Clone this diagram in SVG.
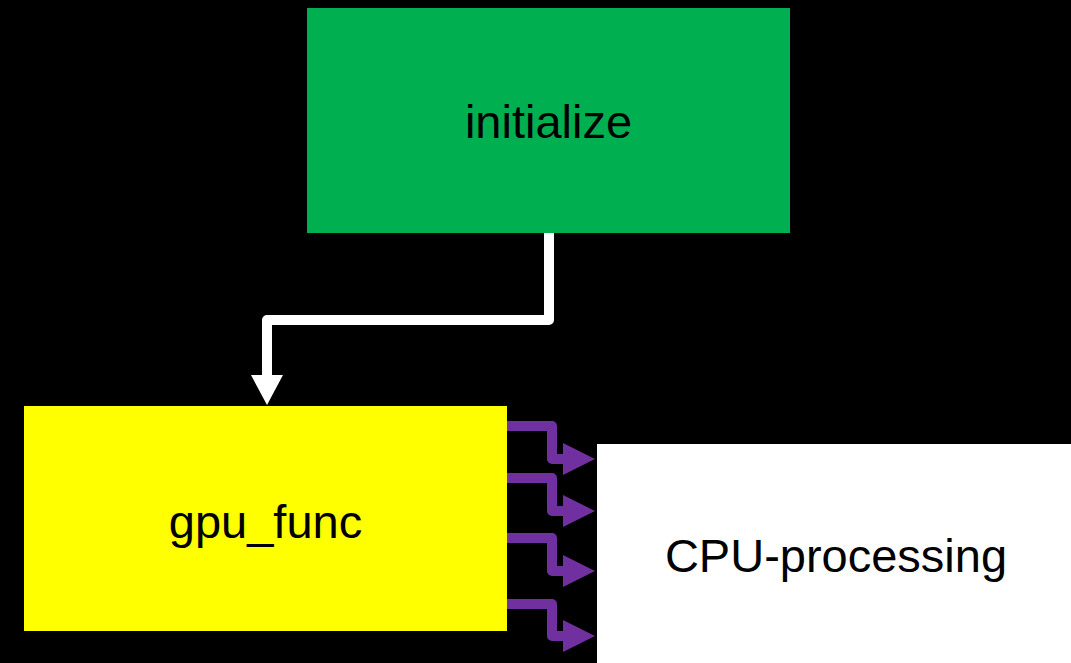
<svg xmlns="http://www.w3.org/2000/svg" width="1071" height="663" viewBox="0 0 1071 663">
  <defs>
    <style>
      .label { font-family: "Liberation Sans", Arial, sans-serif; font-size: 47px; fill: #000; text-anchor: middle; }
      .flow { fill: none; stroke: #FFFFFF; stroke-width: 10; stroke-linejoin: round; }
      .flow-head { fill: #FFFFFF; }
      .data { fill: none; stroke: #7030A0; stroke-width: 10; stroke-linejoin: round; }
      .data-head { fill: #7030A0; }
    </style>
  </defs>

  <rect width="1071" height="663" fill="#000000"/>

  <g id="connectors">
    <!-- initialize -> gpu_func -->
    <path class="flow" d="M549,233 V320 H267 V377"/>
    <polygon class="flow-head" points="251,375 283,375 267,405"/>
    <!-- gpu_func -> CPU-processing (four transfers) -->
    <path class="data" d="M507,426 H552 V459 H565"/>
    <polygon class="data-head" points="563,443 563,475 595,459"/>
    <path class="data" d="M507,478 H552 V511 H565"/>
    <polygon class="data-head" points="563,495 563,527 595,511"/>
    <path class="data" d="M507,538 H552 V571 H565"/>
    <polygon class="data-head" points="563,555 563,587 595,571"/>
    <path class="data" d="M507,604 H552 V636 H565"/>
    <polygon class="data-head" points="563,620 563,652 595,636"/>
  </g>

  <g id="initialize">
    <rect x="307" y="8" width="483" height="225" fill="#00B050"/>
    <text class="label" x="548.5" y="138">initialize</text>
  </g>

  <g id="gpu_func">
    <rect x="24" y="406" width="483" height="225" fill="#FFFF00"/>
    <text class="label" x="265.5" y="538">gpu_func</text>
  </g>

  <g id="cpu_processing">
    <rect x="597" y="444" width="483" height="225" fill="#FFFFFF"/>
    <text class="label" x="836" y="572">CPU-processing</text>
  </g>
</svg>
